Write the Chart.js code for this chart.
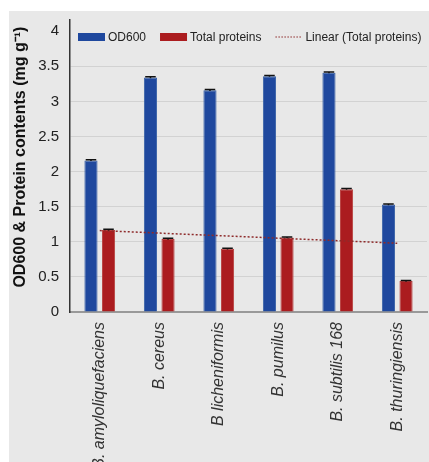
<!DOCTYPE html>
<html>
<head>
<meta charset="utf-8">
<script src="https://cdn.jsdelivr.net/npm/chart.js@4.4.0/dist/chart.umd.min.js"></script>
<style>
  html, body { margin: 0; padding: 0; background: #fff; }
  #wrap { width: 429px; height: 462px; }
</style>
</head>
<body>
<div id="wrap"><canvas id="c" width="429" height="462"></canvas></div>
<script>
// data
const categories = ['B. amyloliquefaciens', 'B. cereus', 'B licheniformis', 'B. pumilus', 'B. subtilis 168', 'B. thuringiensis'];
const od600 = [2.16, 3.34, 3.16, 3.36, 3.41, 1.53];
const od600Err = [0.01, 0.01, 0.01, 0.01, 0.01, 0.01];
const proteins = [1.17, 1.04, 0.90, 1.06, 1.75, 0.44];
const proteinsErr = [0.01, 0.01, 0.01, 0.01, 0.01, 0.01];
// trend line end points (Excel linear trendline)
const trend = [1.16, null, null, null, null, 0.98];
const yTicks = [0, 0.5, 1, 1.5, 2, 2.5, 3, 3.5, 4];

const BLUE = '#1f489e';
const RED = '#ab1c1f';
const TREND = '#8e2b2b';

// grey panel behind everything
const panelBg = {
    id: 'panelBg',
    beforeDraw(chart) {
        const ctx = chart.ctx;
        ctx.save();
        ctx.fillStyle = '#ffffff';
        ctx.fillRect(0, 0, chart.width, chart.height);
        ctx.fillStyle = '#e8e8e8';
        ctx.fillRect(9, 11, chart.width - 9, chart.height - 11);
        ctx.restore();
    }
};

// small error bars on top of the columns
const errorBars = {
    id: 'errorBars',
    afterDatasetsDraw(chart) {
        const ctx = chart.ctx;
        const y = chart.scales.y;
        ctx.save();
        ctx.strokeStyle = '#111';
        ctx.lineWidth = 1.5;
        chart.data.datasets.forEach((ds, i) => {
            if (!ds.errors) return;
            chart.getDatasetMeta(i).data.forEach((bar, j) => {
                const v = ds.data[j];
                const top = y.getPixelForValue(v + ds.errors[j]);
                const bot = y.getPixelForValue(v - ds.errors[j]);
                const half = bar.width * 0.4;
                ctx.beginPath();
                ctx.moveTo(bar.x, bot);
                ctx.lineTo(bar.x, top);
                ctx.moveTo(bar.x - half, top);
                ctx.lineTo(bar.x + half, top);
                ctx.stroke();
            });
        });
        ctx.restore();
    }
};

// legend drawn inside the plot, Excel style (columns first, then trendline)
const innerLegend = {
    id: 'innerLegend',
    afterDraw(chart) {
        const ctx = chart.ctx;
        const area = chart.chartArea;
        let x = area.left + 8;
        const yc = area.top + 17;
        const items = chart.data.datasets.filter(d => d.type !== 'line')
            .concat(chart.data.datasets.filter(d => d.type === 'line'));
        ctx.save();
        ctx.font = '12px "Liberation Sans", Arial, sans-serif';
        ctx.textBaseline = 'middle';
        items.forEach(ds => {
            if (ds.type === 'line') {
                ctx.strokeStyle = ds.borderColor;
                ctx.lineWidth = 1.2;
                ctx.setLineDash([1.5, 1.5]);
                ctx.beginPath();
                ctx.moveTo(x, yc);
                ctx.lineTo(x + 27, yc);
                ctx.stroke();
                ctx.setLineDash([]);
            } else {
                ctx.fillStyle = ds.backgroundColor;
                ctx.fillRect(x, yc - 4, 27, 8);
            }
            x += 30;
            ctx.fillStyle = '#222';
            ctx.fillText(ds.label, x, yc + 1);
            x += ctx.measureText(ds.label).width + 14;
        });
        ctx.restore();
    }
};

new Chart(document.getElementById('c'), {
    data: {
        labels: categories,
        datasets: [
            {
                type: 'bar',
                label: 'OD600',
                data: od600,
                errors: od600Err,
                backgroundColor: BLUE,
                borderColor: '#3a62a8',
                borderWidth: 1,
                categoryPercentage: 0.59,
                barPercentage: 0.75,
                order: 1
            },
            {
                type: 'bar',
                label: 'Total proteins',
                data: proteins,
                errors: proteinsErr,
                backgroundColor: RED,
                borderColor: '#b8403f',
                borderWidth: 1,
                categoryPercentage: 0.59,
                barPercentage: 0.75,
                order: 1
            },
            {
                type: 'line',
                label: 'Linear (Total proteins)',
                data: trend,
                spanGaps: true,
                borderColor: TREND,
                borderWidth: 1.5,
                borderDash: [2, 2],
                pointRadius: 0,
                order: 0
            }
        ]
    },
    options: {
        responsive: false,
        animation: false,
        layout: { padding: { top: 18, right: 2, left: 0, bottom: 0 } },
        plugins: {
            legend: { display: false },
            tooltip: { enabled: false }
        },
        scales: {
            x: {
                grid: { display: false, drawTicks: false },
                border: { color: '#999', width: 2 },
                ticks: {
                    autoSkip: false,
                    minRotation: 90,
                    maxRotation: 90,
                    padding: 10,
                    color: '#333',
                    font: { family: '"Liberation Sans", Arial, sans-serif', size: 16, style: 'italic' }
                },
                afterFit(scale) { scale.height = 150; }
            },
            y: {
                min: 0,
                max: 4.16,
                afterBuildTicks(scale) { scale.ticks = yTicks.map(v => ({ value: v })); },
                grid: {
                    drawTicks: false,
                    color: ctx => (ctx.tick && (ctx.tick.value === 0 || ctx.tick.value === 4)) ? 'rgba(0,0,0,0)' : '#d2d2d2',
                    lineWidth: 1
                },
                border: { color: '#333', width: 1.5 },
                ticks: {
                    padding: 11,
                    color: '#222',
                    font: { family: '"Liberation Sans", Arial, sans-serif', size: 15 },
                    callback: v => String(v)
                },
                title: {
                    display: true,
                    text: '    OD600 & Protein contents (mg g\u207B\u00B9)',
                    color: '#111',
                    padding: { top: 11, bottom: 0 },
                    font: { family: '"Liberation Sans", Arial, sans-serif', size: 16, weight: 'bold' }
                },
                afterFit(scale) { scale.width = 70; }
            }
        }
    },
    plugins: [panelBg, errorBars, innerLegend]
});
</script>
</body>
</html>
